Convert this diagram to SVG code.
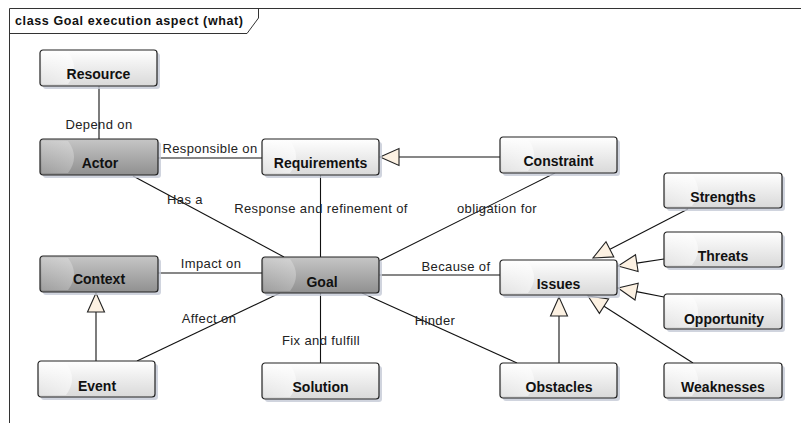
<svg xmlns="http://www.w3.org/2000/svg" width="801" height="423" viewBox="0 0 801 423">
  <defs>
    <linearGradient id="gWhite" x1="0" y1="0" x2="0" y2="1">
      <stop offset="0" stop-color="#ffffff"/>
      <stop offset="1" stop-color="#d9d9d9"/>
    </linearGradient>
    <linearGradient id="gGray" x1="0" y1="0" x2="0" y2="1">
      <stop offset="0" stop-color="#c6c6c6"/>
      <stop offset="1" stop-color="#909090"/>
    </linearGradient>
    <linearGradient id="gShine" x1="0" y1="0" x2="1" y2="0">
      <stop offset="0" stop-color="#ffffff" stop-opacity="0.25"/>
      <stop offset="1" stop-color="#ffffff" stop-opacity="0.6"/>
    </linearGradient>
  </defs>
  <style>
    .frame { fill: none; stroke: #333; stroke-width: 1; }
    .title { font-family: "Liberation Sans", Arial, sans-serif; font-weight: bold; font-size: 12.5px; fill: #111; }
    .shadow { fill: #c4c9d6; opacity: 0.8; }
    .box { stroke: #222; stroke-width: 1.2; }
    .white .box { fill: url(#gWhite); }
    .gray .box { fill: url(#gGray); }
    .shine { fill: url(#gShine); stroke: none; }
    .white .shine { opacity: 0.9; }
    .gray .shine { opacity: 0.45; }
    .name { font-family: "Liberation Sans", Arial, sans-serif; font-weight: bold; font-size: 14px; fill: #111; text-anchor: middle; }
    .line { fill: none; stroke: #111; stroke-width: 1.1; }
    .tri { fill: #fcf1e2; stroke: #222; stroke-width: 1.1; stroke-linejoin: miter; }
    .lbl { font-family: "Liberation Sans", Arial, sans-serif; font-size: 13px; letter-spacing: 0.4px; fill: #222; text-anchor: middle; }
  </style>

  <rect width="801" height="423" fill="#ffffff"/>

  <!-- diagram frame with its name tab -->
  <g id="frame">
    <path class="frame" d="M9.5,423 V8.5 H801"/>
    <path class="frame" d="M9.5,33.5 H247 L258.5,18 V8.5"/>
    <text class="title" x="15" y="25" textLength="228" lengthAdjust="spacing">class Goal execution aspect (what)</text>
  </g>

  <!-- associations and generalizations -->
  <g id="connectors">
    <line class="line" x1="99" y1="86" x2="99" y2="139"/>
    <line class="line" x1="158" y1="158" x2="262" y2="158"/>
    <line class="line" x1="133" y1="176" x2="284" y2="257"/>
    <line class="line" x1="320.5" y1="175" x2="320.5" y2="257"/>
    <line class="line" x1="555" y1="173" x2="379" y2="261"/>
    <line class="line" x1="158" y1="273" x2="262" y2="273"/>
    <line class="line" x1="379" y1="275" x2="500" y2="275"/>
    <line class="line" x1="280" y1="293" x2="137" y2="361"/>
    <line class="line" x1="320.5" y1="293" x2="320.5" y2="363"/>
    <line class="line" x1="362" y1="293" x2="517" y2="363"/>

    <line class="line" x1="399" y1="157" x2="500" y2="157"/>
    <polygon class="tri" points="380,157 399,148.5 399,165.5"/>

    <line class="line" x1="96" y1="312" x2="96" y2="361"/>
    <polygon class="tri" points="96,293 87.5,312 104.5,312"/>

    <line class="line" x1="559" y1="316" x2="559" y2="363"/>
    <polygon class="tri" points="559,297 550.5,316 567.5,316"/>

    <line class="line" x1="610" y1="249.3" x2="688" y2="209"/>
    <polygon class="tri" points="593,258 613.8,256.9 606,241.7"/>

    <line class="line" x1="636.8" y1="263.1" x2="664" y2="259"/>
    <polygon class="tri" points="618,266 638.1,271.5 635.5,254.7"/>

    <line class="line" x1="636.6" y1="291.6" x2="664" y2="297"/>
    <polygon class="tri" points="618,288 635,300 638.2,283.3"/>

    <line class="line" x1="604" y1="306.2" x2="693" y2="363"/>
    <polygon class="tri" points="588,296 599.4,313.4 608.6,299"/>

    <text class="lbl" x="99" y="129">Depend on</text>
    <text class="lbl" x="210" y="153">Responsible on</text>
    <text class="lbl" x="185" y="204">Has a</text>
    <text class="lbl" x="321" y="213">Response and refinement of</text>
    <text class="lbl" x="497" y="213">obligation for</text>
    <text class="lbl" x="211" y="268">Impact on</text>
    <text class="lbl" x="456" y="271">Because of</text>
    <text class="lbl" x="209" y="323">Affect on</text>
    <text class="lbl" x="321" y="345">Fix and fulfill</text>
    <text class="lbl" x="435" y="325">Hinder</text>
  </g>

  <g id="resource" class="white" transform="translate(40,50)">
    <rect class="shadow" x="3" y="3" width="117" height="36" rx="3"/>
    <rect class="box" width="117" height="36" rx="3"/>
    <path class="shine" d="M2,2 H28 Q40,18 28,34 H2 Z"/>
    <text class="name" x="58.5" y="29">Resource</text>
  </g>

  <g id="actor" class="gray" transform="translate(40,139)">
    <rect class="shadow" x="3" y="3" width="118" height="36" rx="3"/>
    <rect class="box" width="118" height="36" rx="3"/>
    <path class="shine" d="M2,2 H28 Q40,18 28,34 H2 Z"/>
    <text class="name" x="60" y="29">Actor</text>
  </g>

  <g id="requirements" class="white" transform="translate(262,139)">
    <rect class="shadow" x="3" y="3" width="117" height="36" rx="3"/>
    <rect class="box" width="117" height="36" rx="3"/>
    <path class="shine" d="M2,2 H28 Q40,18 28,34 H2 Z"/>
    <text class="name" x="58.5" y="29">Requirements</text>
  </g>

  <g id="constraint" class="white" transform="translate(500,137)">
    <rect class="shadow" x="3" y="3" width="117" height="36" rx="3"/>
    <rect class="box" width="117" height="36" rx="3"/>
    <path class="shine" d="M2,2 H28 Q40,18 28,34 H2 Z"/>
    <text class="name" x="58.5" y="29">Constraint</text>
  </g>

  <g id="strengths" class="white" transform="translate(664,173)">
    <rect class="shadow" x="3" y="3" width="118" height="35" rx="3"/>
    <rect class="box" width="118" height="35" rx="3"/>
    <path class="shine" d="M2,2 H28 Q40,17.5 28,33 H2 Z"/>
    <text class="name" x="59" y="29">Strengths</text>
  </g>

  <g id="threats" class="white" transform="translate(664,232)">
    <rect class="shadow" x="3" y="3" width="118" height="35" rx="3"/>
    <rect class="box" width="118" height="35" rx="3"/>
    <path class="shine" d="M2,2 H28 Q40,17.5 28,33 H2 Z"/>
    <text class="name" x="59" y="29">Threats</text>
  </g>

  <g id="context" class="gray" transform="translate(40,256)">
    <rect class="shadow" x="3" y="3" width="118" height="36" rx="3"/>
    <rect class="box" width="118" height="36" rx="3"/>
    <path class="shine" d="M2,2 H28 Q40,18 28,34 H2 Z"/>
    <text class="name" x="59" y="28">Context</text>
  </g>

  <g id="goal" class="gray" transform="translate(262,257)">
    <rect class="shadow" x="3" y="3" width="117" height="36" rx="3"/>
    <rect class="box" width="117" height="36" rx="3"/>
    <path class="shine" d="M2,2 H28 Q40,18 28,34 H2 Z"/>
    <text class="name" x="60" y="30">Goal</text>
  </g>

  <g id="issues" class="white" transform="translate(500,260)">
    <rect class="shadow" x="3" y="3" width="117" height="35" rx="3"/>
    <rect class="box" width="117" height="35" rx="3"/>
    <path class="shine" d="M2,2 H28 Q40,17.5 28,33 H2 Z"/>
    <text class="name" x="58.5" y="29">Issues</text>
  </g>

  <g id="opportunity" class="white" transform="translate(664,294)">
    <rect class="shadow" x="3" y="3" width="118" height="35" rx="3"/>
    <rect class="box" width="118" height="35" rx="3"/>
    <path class="shine" d="M2,2 H28 Q40,17.5 28,33 H2 Z"/>
    <text class="name" x="60" y="30">Opportunity</text>
  </g>

  <g id="event" class="white" transform="translate(38,361)">
    <rect class="shadow" x="3" y="3" width="117" height="36" rx="3"/>
    <rect class="box" width="117" height="36" rx="3"/>
    <path class="shine" d="M2,2 H28 Q40,18 28,34 H2 Z"/>
    <text class="name" x="59" y="30">Event</text>
  </g>

  <g id="solution" class="white" transform="translate(262,363)">
    <rect class="shadow" x="3" y="3" width="117" height="36" rx="3"/>
    <rect class="box" width="117" height="36" rx="3"/>
    <path class="shine" d="M2,2 H28 Q40,18 28,34 H2 Z"/>
    <text class="name" x="58.5" y="29">Solution</text>
  </g>

  <g id="obstacles" class="white" transform="translate(500,363)">
    <rect class="shadow" x="3" y="3" width="117" height="35" rx="3"/>
    <rect class="box" width="117" height="35" rx="3"/>
    <path class="shine" d="M2,2 H28 Q40,17.5 28,33 H2 Z"/>
    <text class="name" x="59" y="29">Obstacles</text>
  </g>

  <g id="weaknesses" class="white" transform="translate(664,363)">
    <rect class="shadow" x="3" y="3" width="118" height="35" rx="3"/>
    <rect class="box" width="118" height="35" rx="3"/>
    <path class="shine" d="M2,2 H28 Q40,17.5 28,33 H2 Z"/>
    <text class="name" x="59" y="29">Weaknesses</text>
  </g>
</svg>
